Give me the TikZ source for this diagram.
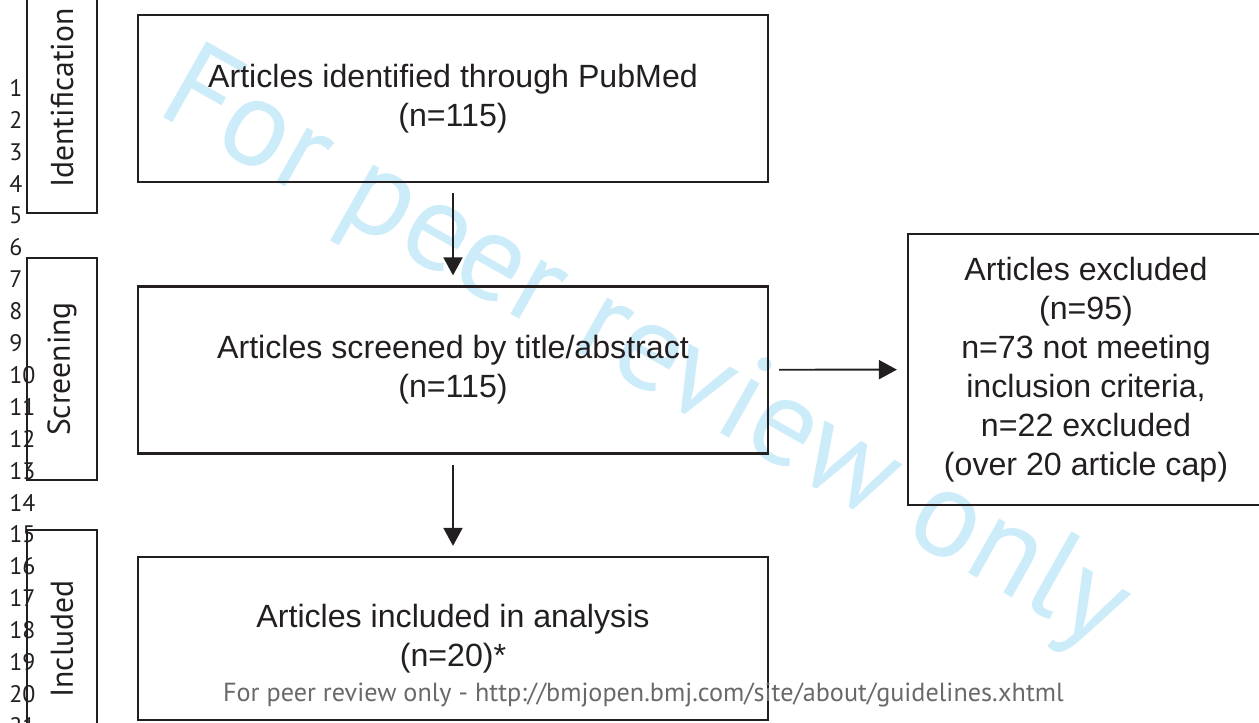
\documentclass[tikz,border=0pt]{standalone}
\usepackage{fontspec}
\setmainfont{Liberation Sans}
\newfontfamily\myriad{PT Sans}
\usetikzlibrary{arrows.meta}
\definecolor{ink}{RGB}{35,31,32}
\definecolor{stamp}{RGB}{205,236,250}
\definecolor{footgray}{RGB}{105,105,105}

\begin{document}
\begin{tikzpicture}[x=0.02cm,y=-0.02cm,
    stagebox/.style={draw=ink,line width=1.3pt,minimum width=12.6cm,minimum height=3.34cm,
        align=center,text=ink,font=\fontsize{18.3}{22.2}\selectfont},
    phasebox/.style={draw=ink,line width=1.3pt,rotate=90,minimum height=1.4cm,
        text=ink,font=\myriad\fontsize{18}{22}\selectfont},
    flow/.style={ink,line width=1.1pt,-{Triangle[length=0.36cm,width=0.38cm]},
        shorten >=0.2cm,shorten <=0.2cm},
    lineno/.style={anchor=west,inner sep=0pt,text=ink,font=\myriad\fontsize{13.6}{15}\selectfont}]
\useasboundingbox (0,0) rectangle (1259,723);
\clip (0,0) rectangle (1259,723);
\node[rotate=-29.5,anchor=base,text=stamp,font=\myriad\fontsize{71}{80}\selectfont]
    (mark) at (628,381) {For peer review only};
\foreach \n in {1,...,21}
    \node[lineno] (n\n) at (9,{88+(\n-1)*31.9}) {\n};
\node[phasebox,minimum width=4.6cm] (ident) at (62,98) {Identification};
\node[phasebox,minimum width=4.44cm] (screen) at (62,369) {Screening};
\node[phasebox,minimum width=4.36cm] (incl) at (62,639) {Included};
\node[stagebox] (found) at (453,98.5) {Articles identified through PubMed\\(n=115)};
\node[stagebox] (screened) at (453,370) {Articles screened by title/abstract\\(n=115)};
\node[stagebox,minimum height=3.26cm] (used) at (453,638.5) {Articles included in analysis\\(n=20)*};
\node[stagebox,minimum width=7.12cm,minimum height=5.42cm] (dropped) at (1086,369.5)
    {Articles excluded\\(n=95)\\n=73 not meeting\\inclusion criteria,\\n=22 excluded\\(over 20 article cap)};
\draw[flow] (found) -- (screened);
\draw[flow] (screened) -- (used);
\draw[flow] (screened) -- (dropped);
\node[text=footgray,font=\myriad\fontsize{14.9}{17}\selectfont] (foot) at (643.5,695)
    {For peer review only - http://bmjopen.bmj.com/site/about/guidelines.xhtml};
\end{tikzpicture}
\end{document}
